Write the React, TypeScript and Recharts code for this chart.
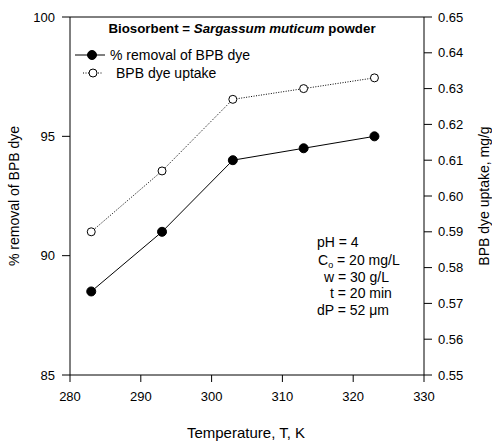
import { ComposedChart, Legend, Line, ReferenceLine, XAxis, YAxis } from "recharts";

const temperatures = [283, 293, 303, 313, 323];
const removalPct = [88.5, 91, 94, 94.5, 95];
const dyeUptake = [0.59, 0.607, 0.627, 0.63, 0.633];

const xTicks = [280, 290, 300, 310, 320, 330];
const leftTicks = [85, 90, 95, 100];
const rightTicks = [0.55, 0.56, 0.57, 0.58, 0.59, 0.6, 0.61, 0.62, 0.63, 0.64, 0.65];

const seriesNames = ["% removal of BPB dye", "BPB dye uptake"];

const font = "'Liberation Sans', Arial, sans-serif";
const tickStyle = { fill: "#000", fontSize: 13, fontFamily: font };

const data = temperatures.map((t, i) => ({
  T: t,
  removal: removalPct[i],
  uptake: dyeUptake[i],
}));

function LegendBox(props: any) {
  const payload = props.payload ?? [];
  return (
    <svg width={200} height={40} style={{ overflow: "visible" }}>
      {payload.map((entry: any, i: number) => {
        const y = 10 + i * 18;
        const filled = entry.dataKey === "removal";
        return (
          <g key={entry.dataKey}>
            {filled ? (
              <line x1={5} x2={35} y1={y} y2={y} stroke="#000" />
            ) : (
              <line x1={13} x2={32} y1={y} y2={y} stroke="#000" strokeDasharray="1 1.5" />
            )}
            <circle
              cx={filled ? 22 : 23}
              cy={y}
              r={filled ? 4.5 : 4}
              fill={filled ? "#000" : "#fff"}
              stroke="#000"
            />
            <text x={filled ? 40 : 46} y={y + 5} fontSize={14} fontFamily={font} fill="#000">
              {entry.value}
            </text>
          </g>
        );
      })}
    </svg>
  );
}

export default function App() {
  return (
    <div style={{ position: "absolute", left: 0, top: 0, width: 492, height: 443, background: "#fff" }}>
      <ComposedChart
        width={492}
        height={443}
        data={data}
        margin={{ top: 17, right: 0, bottom: 0, left: 0 }}
      >
        <XAxis
          dataKey="T"
          type="number"
          domain={[280, 330]}
          ticks={xTicks}
          tickSize={7}
          tickMargin={10}
          height={68}
          stroke="#000"
          tick={tickStyle}
          axisLine={{ stroke: "#000" }}
          tickLine={{ stroke: "#000" }}
        />
        <YAxis
          yAxisId="left"
          domain={[85, 100]}
          ticks={leftTicks}
          width={70}
          tickSize={8}
          tickMargin={7}
          tick={tickStyle}
          axisLine={{ stroke: "#000" }}
          tickLine={{ stroke: "#000" }}
        />
        <YAxis
          yAxisId="right"
          orientation="right"
          domain={[0.55, 0.65]}
          ticks={rightTicks}
          width={68}
          tickSize={8}
          tickMargin={6}
          tick={tickStyle}
          tickFormatter={(v: number) => v.toFixed(2)}
          axisLine={{ stroke: "#000" }}
          tickLine={{ stroke: "#000" }}
        />
        <ReferenceLine yAxisId="left" y={100} stroke="#000" />
        <Legend
          layout="vertical"
          align="center"
          verticalAlign="middle"
          content={<LegendBox />}
          wrapperStyle={{ top: 45, left: 70, width: 200, height: 40 }}
        />
        <Line
          yAxisId="left"
          dataKey="removal"
          name={seriesNames[0]}
          type="linear"
          stroke="#000"
          strokeWidth={1}
          dot={{ r: 4.5, fill: "#000", stroke: "#000", strokeWidth: 1 }}
          isAnimationActive={false}
        />
        <Line
          yAxisId="right"
          dataKey="uptake"
          name={seriesNames[1]}
          type="linear"
          stroke="#000"
          strokeWidth={1}
          strokeDasharray="1 1.5"
          dot={{ r: 4, fill: "#fff", stroke: "#000", strokeWidth: 1, strokeDasharray: "0" }}
          isAnimationActive={false}
        />
      </ComposedChart>
      <svg
        width={492}
        height={443}
        style={{ position: "absolute", left: 0, top: 0, pointerEvents: "none" }}
        fontFamily={font}
        fill="#000"
      >
        <text x={242} y={33} textAnchor="middle" fontSize={13.3} fontWeight="bold">
          Biosorbent = <tspan fontStyle="italic">Sargassum muticum</tspan> powder
        </text>
        <g fontSize={14}>
          <text x={317} y={247}>pH = 4</text>
          <text x={318} y={265}>
            C<tspan fontSize={9} dy={3}>o</tspan>
            <tspan dy={-3}> = 20 mg/L</tspan>
          </text>
          <text x={324} y={282}>w = 30 g/L</text>
          <text x={330} y={298}>t = 20 min</text>
          <text x={317} y={315}>dP = 52 μm</text>
        </g>
        <text x={246} y={438} textAnchor="middle" fontSize={15}>
          Temperature, T, K
        </text>
        <text x={19} y={196} textAnchor="middle" fontSize={14} transform="rotate(-90 19 196)">
          % removal of BPB dye
        </text>
        <text x={489} y={196} textAnchor="middle" fontSize={14} transform="rotate(-90 489 196)">
          BPB dye uptake, mg/g
        </text>
      </svg>
    </div>
  );
}
